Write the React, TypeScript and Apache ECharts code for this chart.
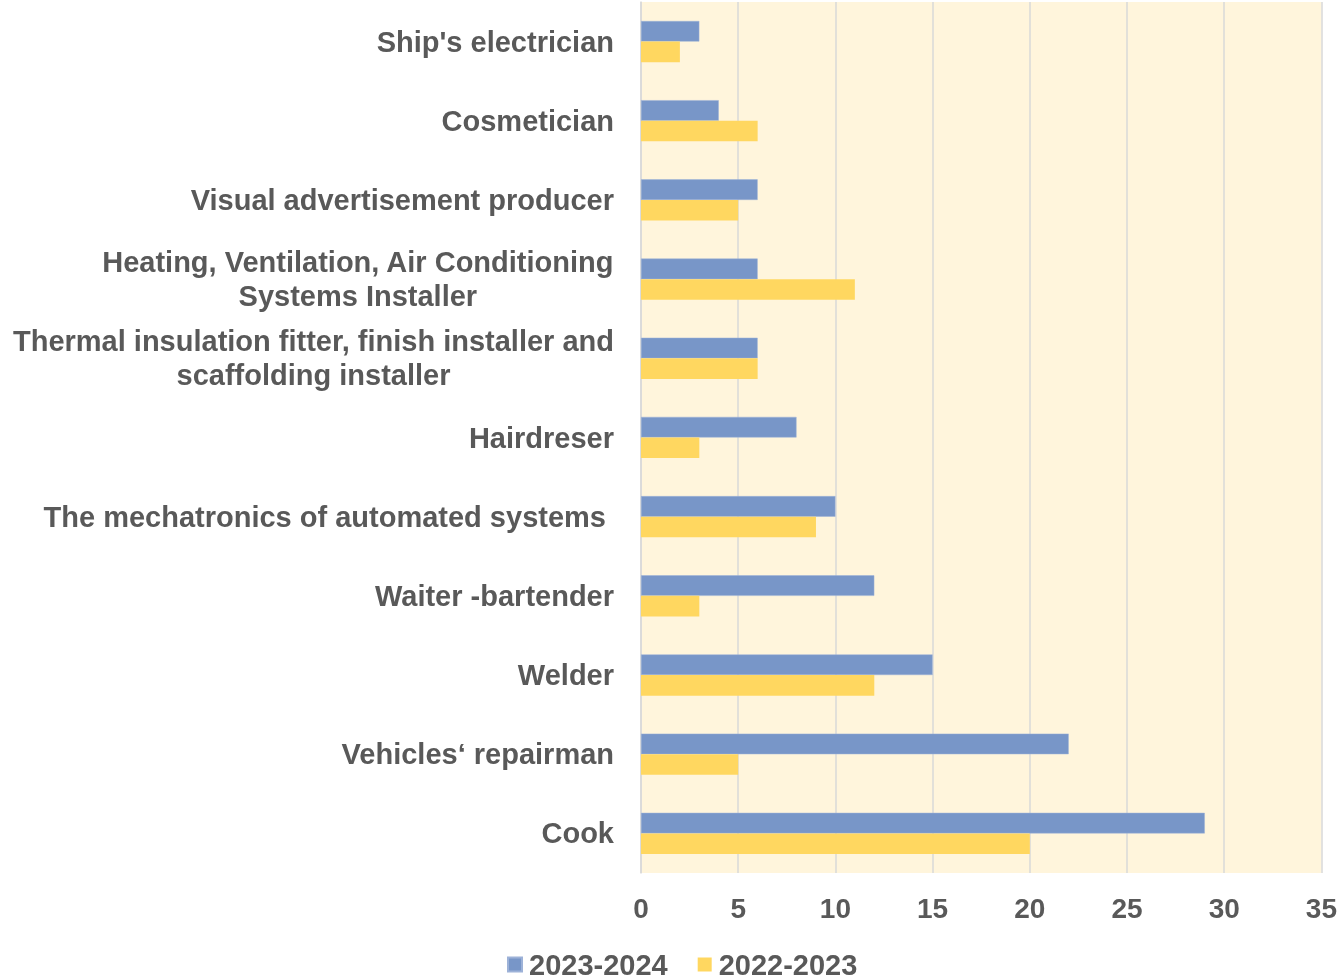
import React, { useEffect, useRef } from "react";
import * as echarts from "echarts";

const categories = [
  "Cook",
  "Vehicles‘ repairman",
  "Welder",
  "Waiter -bartender",
  "The mechatronics of automated systems ",
  "Hairdreser",
  "Thermal insulation fitter, finish installer and\nscaffolding installer",
  "Heating, Ventilation, Air Conditioning\nSystems Installer",
  "Visual advertisement producer",
  "Cosmetician",
  "Ship's electrician",
];
const values2324 = [29, 22, 15, 12, 10, 8, 6, 6, 6, 4, 3];
const values2223 = [20, 5, 12, 3, 9, 3, 6, 11, 5, 6, 2];
const xTicks = [0, 5, 10, 15, 20, 25, 30, 35];

const TEXT = "#595959";
const FONT = "'Liberation Sans', Arial, sans-serif";

export default function App() {
  const ref = useRef<HTMLDivElement>(null);
  useEffect(() => {
    if (!ref.current) return;
    const chart = echarts.init(ref.current, undefined, { renderer: "svg" });
    chart.setOption({
      animation: false,
      textStyle: { fontFamily: FONT },
      grid: { left: 641, right: 18, top: 2, bottom: 107, show: true, backgroundColor: "#FFF5DC", borderWidth: 0 },
      legend: {
        top: 945,
        left: 502,
        data: ["2023-2024", "2022-2023"],
        icon: "rect",
        itemWidth: 14,
        itemHeight: 14,
        itemGap: 30,
        textStyle: { fontSize: 29, fontWeight: "bold", color: TEXT, fontFamily: FONT, padding: [0, 0, 0, 2] },
      },
      xAxis: {
        type: "value",
        min: xTicks[0],
        max: xTicks[xTicks.length - 1],
        interval: 5,
        axisLine: { show: false },
        axisTick: { show: false },
        splitLine: { show: true, lineStyle: { color: "#D9D9D9", width: 1.5 } },
        axisLabel: { fontSize: 28, fontWeight: "bold", color: TEXT, margin: 21, fontFamily: FONT },
      },
      yAxis: {
        type: "category",
        data: categories,
        axisLine: { show: true, lineStyle: { color: "#D9D9D9", width: 1.5 } },
        axisTick: { show: false },
        axisLabel: {
          margin: 27,
          formatter: (v: string) => v.split("\n").map((s) => `{a|${s}}`).join("\n"),
          rich: {
            a: { fontSize: 29, fontWeight: "bold", color: TEXT, fontFamily: FONT, align: "center", lineHeight: 34 },
          },
        },
      },
      series: [
        {
          name: "2023-2024",
          type: "bar",
          data: values2324,
          itemStyle: { color: "#7896C8", borderColor: "#9DB2D8", borderWidth: 0.5 },
          barGap: "0%",
          barCategoryGap: "48%",
        },
        {
          name: "2022-2023",
          type: "bar",
          data: values2223,
          itemStyle: { color: "#FFD760" },
          barGap: "0%",
          barCategoryGap: "48%",
        },
      ],
    });
    return () => chart.dispose();
  }, []);
  return <div ref={ref} style={{ position: "fixed", left: 0, top: 0, width: 1340, height: 980 }} />;
}
